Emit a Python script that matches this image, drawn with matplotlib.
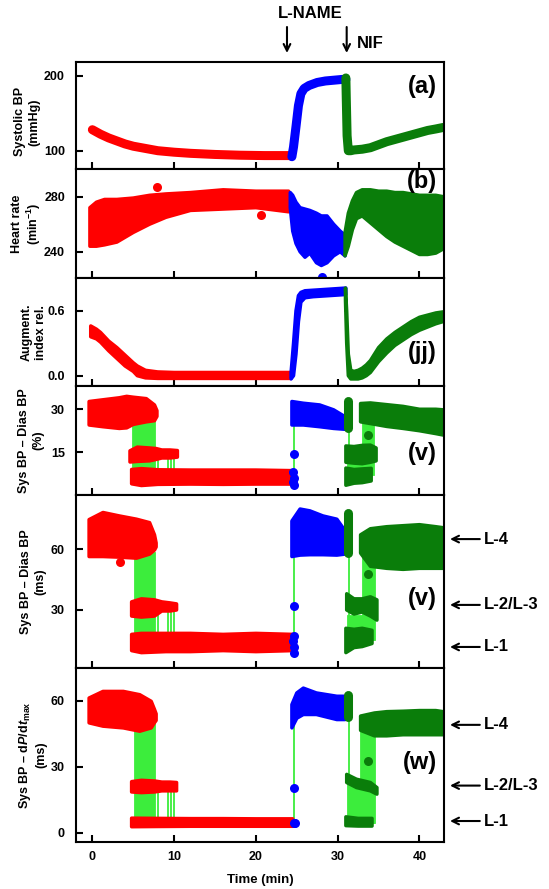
import matplotlib
matplotlib.use("Agg")  # no display
import matplotlib.pyplot as plt
import numpy as np

plt.rcParams["font.family"] = ["Liberation Sans", "DejaVu Sans"]
plt.rcParams["font.weight"] = "bold"
plt.rcParams["mathtext.fontset"] = "custom"
plt.rcParams["mathtext.rm"] = "Liberation Sans:bold"
plt.rcParams["mathtext.it"] = "Liberation Sans:italic:bold"
plt.rcParams["mathtext.bf"] = "Liberation Sans:bold"

RED, BLUE, GREEN, LIME = "#ff0000", "#0000ff", "#0a7d0a", "#3ced3c"

# ---- (a) systolic BP: (time, value) along the trace ----
A_RED = [(0, 128), (1, 122), (2, 117), (3, 113), (4, 109), (5, 106), (6, 104),
         (8, 100), (10, 98), (12, 96.5), (15, 95), (18, 94), (21, 93.5), (24.3, 93.5)]
A_BLUE = [(24.4, 92), (24.6, 105), (24.9, 132), (25.2, 160), (25.5, 176), (25.9, 183),
          (26.5, 187), (27.5, 191), (28.5, 193), (29.5, 194), (30.5, 195), (31.0, 195)]
A_GREEN = [(31.0, 197), (31.05, 170), (31.15, 120), (31.3, 100), (31.6, 100), (32, 101),
           (33, 102), (34, 104), (35, 108), (36, 112), (37, 115), (38, 118), (39, 121),
           (40, 124), (41, 127), (42, 129), (42.9, 131)]

# ---- blocks of scattered beats: (time, low edge, high edge) ----
B_RED = [(-0.3, 244, 272), (0.5, 244, 276), (1.5, 245, 278), (3, 247, 278), (5, 254, 279),
         (7, 260, 281), (9, 265, 282), (12, 270, 283), (16, 271, 285), (20, 272, 284),
         (24.0, 269, 284)]
B_BLUE = [(24.2, 272, 283), (24.5, 255, 281), (24.9, 246, 276), (25.4, 240, 272),
          (26.0, 236, 271), (26.6, 239, 270), (27.4, 232, 268), (28.0, 230, 266),
          (28.7, 232, 266), (29.5, 237, 260), (30.3, 240, 255), (30.9, 237, 252)]
B_GREEN = [(30.9, 237, 254), (31.3, 244, 268), (31.8, 256, 277), (32.3, 264, 283),
           (33, 266, 285), (34, 261, 285), (35, 256, 284), (36, 251, 284), (37, 247, 283),
           (38, 244, 283), (39, 241, 282), (40, 238, 281), (41, 238, 281), (42, 239, 281),
           (42.9, 242, 280)]
B_RED_DOTS = [(7.9, 287.0), (20.6, 266.5)]
B_BLUE_DOTS = [(28.1, 221.5)]

C_RED = [(-0.2, 0.36, 0.46), (0.5, 0.34, 0.43), (1, 0.31, 0.40), (2, 0.23, 0.32),
         (3, 0.16, 0.26), (4, 0.09, 0.19), (5, 0.04, 0.12), (5.5, 0.0, 0.09),
         (6.5, -0.02, 0.05), (8, -0.025, 0.035), (10, -0.025, 0.03), (24.3, -0.025, 0.03)]
C_BLUE = [(24.3, -0.03, 0.03), (24.6, 0.0, 0.3), (24.9, 0.2, 0.6), (25.2, 0.5, 0.74),
          (25.5, 0.68, 0.77), (26, 0.72, 0.785), (27, 0.73, 0.79), (28, 0.735, 0.795),
          (29, 0.74, 0.80), (30, 0.745, 0.805), (31, 0.75, 0.81)]
C_GREEN = [(30.95, 0.70, 0.81), (31.1, 0.3, 0.6), (31.3, 0.0, 0.2), (31.6, -0.03, 0.05),
           (32, -0.03, 0.04), (32.5, -0.03, 0.05), (33, -0.02, 0.07), (33.5, 0.0, 0.10),
           (34, 0.03, 0.14), (35, 0.13, 0.26), (36, 0.21, 0.34), (37, 0.28, 0.40),
           (38, 0.33, 0.45), (39, 0.38, 0.50), (40, 0.42, 0.54), (41, 0.45, 0.56),
           (42, 0.48, 0.58), (42.9, 0.50, 0.59)]

D_RED_L4 = [(-0.4, 24.5, 32.7), (1.3, 23.9, 33.3), (3.3, 23.3, 34.0), (4.2, 23.5, 34.5),
            (5.0, 24.7, 34.2), (6.6, 25.6, 33.7), (7.6, 26.0, 31.5), (7.9, 27.5, 29.5)]
D_RED_L23 = [(4.6, 11.6, 15.5), (5.5, 11.8, 16.8), (7.0, 12.0, 16.5), (7.8, 12.5, 16.3),
             (8.5, 13.0, 15.8), (9.5, 13.0, 15.8), (10.4, 13.3, 15.6)]
D_RED_L1 = [(4.8, 4.0, 9.0), (6, 3.4, 9.3), (8, 3.8, 8.9), (12, 3.9, 8.8), (16, 3.8, 8.8),
            (20, 3.9, 8.8), (24.4, 3.9, 8.6)]
D_BLUE = [(24.4, 24.5, 32.7), (25.8, 24.5, 32.1), (27.8, 23.9, 31.5), (29.5, 23.3, 29.8),
          (30.9, 23.0, 27.4)]
D_GREEN_L23 = [(31.0, 11.5, 17.2), (32, 11.2, 17.0), (33, 11.0, 17.4), (34, 11.5, 17.5),
               (34.7, 12.0, 16.5)]
D_GREEN_L1 = [(31.0, 3.5, 9.5), (32, 4.2, 9.0), (33, 4.4, 9.2), (34.1, 5.0, 9.4)]
D_GREEN_L4 = [(32.8, 25.6, 32.0), (34, 25.0, 32.2), (36, 24.0, 31.6), (38, 23.3, 31.0),
              (40, 22.5, 30.0), (42, 21.5, 30.0), (42.9, 21.0, 29.8)]
D_GREEN_COL = [(31.2, 23.5, 33.0)]
D_BLUE_DOTS = [(24.6, 14.4), (24.5, 8.0), (24.6, 6.0), (24.5, 4.5), (24.7, 3.5)]
D_GREEN_DOTS = [(33.7, 21.1)]
D_LIME = [(5.0, 7.6, 6.0, 27.0), (8.0, 8.0, 6.0, 14.5), (9.3, 9.3, 6.0, 14.5),
          (9.65, 9.65, 6.0, 14.5), (10.0, 10.0, 6.0, 14.5), (24.6, 24.6, 6.0, 28.0),
          (31.35, 31.35, 6.0, 28.0), (33.1, 34.4, 7.0, 27.0), (31.3, 34.3, 8.0, 12.0)]

E_RED_L4 = [(-0.4, 56.3, 74.5), (1.3, 56.3, 78.0), (3.3, 56.0, 76.3), (5.4, 55.5, 74.7),
            (7.0, 57.5, 73.0), (7.6, 59.5, 67.0), (7.8, 61.0, 63.0)]
E_RED_L23 = [(4.8, 27.0, 34.0), (6, 26.5, 35.5), (7.6, 27.0, 35.0), (8.5, 29.5, 34.0),
             (9.5, 29.5, 33.5), (10.3, 30.0, 33.0)]
E_RED_L1 = [(4.8, 10.0, 18.0), (6, 9.0, 18.5), (9, 9.5, 18.5), (12, 9.5, 18.5),
            (16, 10.0, 18.0), (20, 9.5, 18.5), (24.5, 10.0, 18.0)]
E_BLUE = [(24.4, 56.3, 73.8), (25.4, 57.0, 79.7), (26.6, 57.2, 78.8), (28.2, 57.2, 76.3),
          (29.9, 57.0, 74.7), (30.9, 57.5, 69.0)]
E_GREEN_L23 = [(31.1, 30.0, 38.0), (32, 28.0, 35.5), (33, 29.0, 35.5), (34, 27.0, 36.5),
               (34.8, 25.0, 35.0)]
E_GREEN_L1 = [(31.0, 9.0, 21.0), (32, 11.5, 20.5), (33, 12.0, 21.0), (34.2, 13.5, 20.0)]
E_GREEN_L4 = [(32.8, 58.0, 67.0), (34, 51.5, 70.0), (36, 50.5, 71.0), (38, 50.0, 71.5),
              (40, 50.5, 72.0), (42, 50.5, 71.0), (42.9, 50.5, 70.5)]
E_GREEN_COL = [(31.2, 58.0, 77.5)]
E_RED_DOTS = [(3.4, 53.5)]
E_BLUE_DOTS = [(24.7, 32.2), (24.6, 17.0), (24.5, 14.5), (24.6, 12.0), (24.7, 9.0)]
E_GREEN_DOTS = [(33.7, 47.5)]
E_LIME = [(5.2, 7.6, 14.0, 58.0), (8.0, 8.0, 14.0, 31.0), (9.3, 9.3, 14.0, 31.0),
          (9.65, 9.65, 14.0, 31.0), (10.0, 10.0, 14.0, 31.0), (24.7, 24.7, 12.0, 57.0),
          (31.4, 31.4, 12.0, 66.0), (33.1, 34.6, 15.0, 60.0), (31.3, 34.2, 18.0, 27.0)]

F_RED_L4 = [(-0.4, 49.9, 61.2), (1.3, 48.4, 64.2), (3.8, 47.6, 64.2), (5.8, 46.1, 62.7),
            (7.2, 47.6, 59.7), (7.6, 50.0, 56.0), (7.8, 51.0, 54.0)]
F_RED_L23 = [(4.8, 18.5, 23.2), (6, 18.2, 23.8), (7.6, 18.5, 23.5), (8.5, 19.0, 23.0),
             (9.5, 19.0, 23.0), (10.3, 19.0, 22.8)]
F_RED_L1 = [(4.8, 2.7, 6.6), (8, 2.8, 6.5), (12, 2.9, 6.4), (16, 2.9, 6.4), (20, 2.9, 6.3),
            (24.5, 2.9, 6.3)]
F_BLUE = [(24.4, 47.6, 58.2), (25.0, 52.0, 63.5), (25.8, 53.7, 65.7), (27.4, 53.7, 63.5),
          (29.9, 51.4, 62.0), (30.9, 51.4, 62.0)]
F_GREEN_L23 = [(31.1, 22.8, 26.5), (32.3, 20.5, 24.3), (34.0, 19.0, 22.8), (34.8, 17.5, 20.5)]
F_GREEN_L1 = [(31.0, 3.2, 7.2), (32.5, 3.0, 6.5), (34.2, 3.0, 6.5)]
F_GREEN_L4 = [(32.8, 46.5, 53.0), (34.5, 44.0, 54.4), (36, 44.0, 55.0), (38, 44.5, 55.2),
              (40, 44.5, 55.5), (42, 44.5, 55.5), (42.9, 44.5, 55.0)]
F_GREEN_COL = [(31.2, 52.5, 62.5)]
F_BLUE_DOTS = [(24.7, 20.5), (24.6, 4.6), (24.8, 4.6)]
F_GREEN_DOTS = [(33.7, 32.8)]
F_LIME = [(5.2, 7.6, 4.6, 50.0), (8.0, 8.0, 4.6, 21.0), (9.3, 9.3, 4.6, 21.0),
          (9.65, 9.65, 4.6, 21.0), (10.0, 10.0, 4.6, 21.0), (24.7, 24.7, 4.6, 50.0),
          (31.4, 31.4, 22.0, 52.0), (31.3, 34.4, 4.6, 22.0), (32.9, 34.6, 4.6, 50.0)]

# level markers on the right of (v) and (w)
LEVELS_E = [("L-4", 64.9), ("L-2/L-3", 32.5), ("L-1", 11.8)]
LEVELS_F = [("L-4", 49.0), ("L-2/L-3", 21.4), ("L-1", 5.3)]

X_TICKS = [0, 10, 20, 30, 40]
T_LNAME, T_NIF = 23.8, 31.1

# ---- layout (pixels of the 549x889 figure) ----
FIG_W, FIG_H = 549, 889
AX_LEFT, AX_RIGHT = 76, 444
EDGES = [61.7, 169, 278.3, 386, 495, 668.3, 841.7]


def line(ax, rows, color):
    t, y = np.array(rows, dtype=float).T
    ax.plot(t, y, color=color, lw=6.5, solid_capstyle="round",
            solid_joinstyle="round", zorder=2)


def block(ax, rows, color):
    t, lo, hi = np.array(rows, dtype=float).T
    ax.fill(np.r_[t, t[::-1]], np.r_[hi, lo[::-1]], color=color, lw=2.5,
            joinstyle="round", zorder=2)


def column(ax, rows, color):
    for t, lo, hi in rows:
        ax.plot([t, t], [lo, hi], color=color, lw=6.5, solid_capstyle="round", zorder=2)


def dots(ax, rows, color, clip=True):
    t, y = np.array(rows, dtype=float).T
    ax.plot(t, y, "o", color=color, ms=6.5, mew=0, zorder=3, clip_on=clip)


def lime(ax, spans):
    for t0, t1, lo, hi in spans:
        ax.fill([t0, t1, t1, t0], [lo, lo, hi, hi], color=LIME, lw=1.3, zorder=1)


fig = plt.figure(figsize=(FIG_W / 100, FIG_H / 100), dpi=100)
axes = []
for top, bot in zip(EDGES[:-1], EDGES[1:]):
    ax = fig.add_axes([AX_LEFT / FIG_W, 1 - bot / FIG_H,
                       (AX_RIGHT - AX_LEFT) / FIG_W, (bot - top) / FIG_H])
    ax.set_xlim(-2, 43)
    ax.set_xticks(X_TICKS)
    ax.tick_params(direction="in", length=5, width=1.5, labelsize=9, top=False, right=False)
    ax.tick_params(axis="y", pad=8)
    ax.tick_params(axis="x", pad=7)
    for s in ax.spines.values():
        s.set_linewidth(1.5)
    axes.append(ax)
ax_a, ax_b, ax_c, ax_d, ax_e, ax_f = axes
for ax in axes[:-1]:
    ax.tick_params(labelbottom=False)

# (a)
line(ax_a, A_RED, RED)
line(ax_a, A_BLUE, BLUE)
line(ax_a, A_GREEN, GREEN)
ax_a.set_ylim(75.6, 218.7)
ax_a.set_yticks([100, 200])

# (b)
block(ax_b, B_RED, RED)
block(ax_b, B_BLUE, BLUE)
block(ax_b, B_GREEN, GREEN)
dots(ax_b, B_RED_DOTS, RED)
dots(ax_b, B_BLUE_DOTS, BLUE, clip=False)
ax_b.set_ylim(220.7, 300.1)
ax_b.set_yticks([240, 280])

# (jj)
block(ax_c, C_RED, RED)
block(ax_c, C_BLUE, BLUE)
block(ax_c, C_GREEN, GREEN)
ax_c.set_ylim(-0.095, 0.9)
ax_c.set_yticks([0.0, 0.6])
ax_c.set_yticklabels(["0.0", "0.6"])

# (v) %
lime(ax_d, D_LIME)
for rows, c in [(D_RED_L4, RED), (D_RED_L23, RED), (D_RED_L1, RED), (D_BLUE, BLUE),
                (D_GREEN_L23, GREEN), (D_GREEN_L1, GREEN), (D_GREEN_L4, GREEN)]:
    block(ax_d, rows, c)
column(ax_d, D_GREEN_COL, GREEN)
dots(ax_d, D_BLUE_DOTS, BLUE)
dots(ax_d, D_GREEN_DOTS, GREEN)
ax_d.set_ylim(0.1, 38.1)
ax_d.set_yticks([15, 30])

# (v) ms
lime(ax_e, E_LIME)
for rows, c in [(E_RED_L4, RED), (E_RED_L23, RED), (E_RED_L1, RED), (E_BLUE, BLUE),
                (E_GREEN_L23, GREEN), (E_GREEN_L1, GREEN), (E_GREEN_L4, GREEN)]:
    block(ax_e, rows, c)
column(ax_e, E_GREEN_COL, GREEN)
dots(ax_e, E_RED_DOTS, RED)
dots(ax_e, E_BLUE_DOTS, BLUE)
dots(ax_e, E_GREEN_DOTS, GREEN)
ax_e.set_ylim(1.3, 86.6)
ax_e.set_yticks([30, 60])

# (w)
lime(ax_f, F_LIME)
for rows, c in [(F_RED_L4, RED), (F_RED_L23, RED), (F_RED_L1, RED), (F_BLUE, BLUE),
                (F_GREEN_L23, GREEN), (F_GREEN_L1, GREEN), (F_GREEN_L4, GREEN)]:
    block(ax_f, rows, c)
column(ax_f, F_GREEN_COL, GREEN)
dots(ax_f, F_BLUE_DOTS, BLUE)
dots(ax_f, F_GREEN_DOTS, GREEN)
ax_f.set_ylim(-4.1, 74.7)
ax_f.set_yticks([0, 30, 60])
ax_f.set_xlabel("Time (min)", fontsize=9.5, fontweight="bold")
ax_f.xaxis.set_label_coords(0.5, -(880 - 841.7) / (841.7 - 668.3))
ax_f.xaxis.label.set_va("center")

# y labels and panel tags
ylabels = ["Systolic BP\n(mmHg)", "Heart rate\n(min$^{-1}$)", "Augment.\nindex rel.",
           "Sys BP \u2013 Dias BP\n(%)", "Sys BP \u2013 Dias BP\n(ms)",
           "Sys BP \u2013 d$\\mathit{P}$/d$\\mathit{t}_{\\mathrm{max}}$\n(ms)"]
label_x = [27, 27, 34, 31, 33, 32]
label_y = [0.44, 0.5, 0.5, 0.5, 0.5, 0.5]
tags = ["(a)", "(b)", "(jj)", "(v)", "(v)", "(w)"]
tag_y = [0.77, 0.885, 0.31, 0.385, 0.405, 0.454]
for ax, lab, lx, ly, tag, ty in zip(axes, ylabels, label_x, label_y, tags, tag_y):
    ax.text((lx - AX_LEFT) / (AX_RIGHT - AX_LEFT), ly, lab, transform=ax.transAxes,
            rotation=90, ha="center", va="center", multialignment="center",
            fontsize=9, fontweight="bold")
    ax.text(0.981, ty, tag, transform=ax.transAxes, ha="right", va="center",
            fontsize=17, fontweight="bold", zorder=5)

# drug arrows above (a)
h_a = EDGES[1] - EDGES[0]
frac = lambda px: 1 + (EDGES[0] - px) / h_a
for t in (T_LNAME, T_NIF):
    ax_a.annotate("", xy=(t, frac(53)), xytext=(t, frac(27)),
                  xycoords=("data", "axes fraction"), annotation_clip=False,
                  arrowprops=dict(arrowstyle="->", lw=1.5, color="black",
                                  shrinkA=0, shrinkB=0, mutation_scale=12))
ax_a.text(26.7, frac(13.3), "L-NAME", transform=ax_a.get_xaxis_transform(),
          ha="center", va="center", fontsize=12, fontweight="bold", clip_on=False)
ax_a.text(32.4, frac(43.3), "NIF", transform=ax_a.get_xaxis_transform(),
          ha="left", va="center", fontsize=12, fontweight="bold", clip_on=False)

# level arrows on the right
w = AX_RIGHT - AX_LEFT
for ax, levels in ((ax_e, LEVELS_E), (ax_f, LEVELS_F)):
    for name, y in levels:
        ax.annotate(name, xy=((450 - AX_LEFT) / w, y), xytext=((484 - AX_LEFT) / w, y),
                    xycoords=("axes fraction", "data"), textcoords=("axes fraction", "data"),
                    ha="left", va="center", fontsize=12, fontweight="bold",
                    annotation_clip=False,
                    arrowprops=dict(arrowstyle="->", lw=1.5, color="black",
                                    shrinkA=1, shrinkB=0, mutation_scale=12))

fig.savefig("out.png", dpi=100)
